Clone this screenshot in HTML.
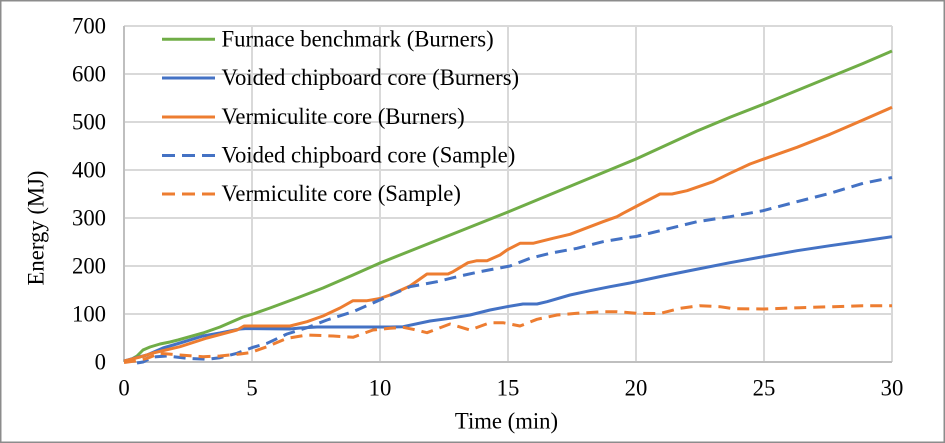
<!DOCTYPE html>
<html>
<head>
<meta charset="utf-8">
<style>
html,body{margin:0;padding:0;background:#fff;}
svg{display:block;}
text{font-family:"Liberation Serif","Times New Roman",serif;font-size:22.7px;fill:#000;}
</style>
</head>
<body>
<svg width="945" height="443" viewBox="0 0 945 443" xmlns="http://www.w3.org/2000/svg">
<rect x="0" y="0" width="945" height="443" fill="#fff"/>
<rect x="0.75" y="0.75" width="943.5" height="441.5" fill="none" stroke="#8c8c8c" stroke-width="1.5"/>
<!-- gridlines -->
<g stroke="#d9d9d9" stroke-width="2" fill="none">
<line x1="124" y1="26" x2="892" y2="26"/>
<line x1="124" y1="74" x2="892" y2="74"/>
<line x1="124" y1="122" x2="892" y2="122"/>
<line x1="124" y1="170" x2="892" y2="170"/>
<line x1="124" y1="218" x2="892" y2="218"/>
<line x1="124" y1="266" x2="892" y2="266"/>
<line x1="124" y1="314" x2="892" y2="314"/>
<line x1="252" y1="26" x2="252" y2="362"/>
<line x1="380" y1="26" x2="380" y2="362"/>
<line x1="508" y1="26" x2="508" y2="362"/>
<line x1="636" y1="26" x2="636" y2="362"/>
<line x1="764" y1="26" x2="764" y2="362"/>
<line x1="892" y1="26" x2="892" y2="362"/>
</g>
<g stroke="#bfbfbf" stroke-width="2" fill="none">
<line x1="124" y1="26" x2="124" y2="362"/>
<line x1="124" y1="362" x2="892" y2="362"/>
</g>
<!-- y tick labels -->
<g text-anchor="end">
<text x="106" y="33.5">700</text>
<text x="106" y="81.5">600</text>
<text x="106" y="129.5">500</text>
<text x="106" y="177.5">400</text>
<text x="106" y="225.5">300</text>
<text x="106" y="273.5">200</text>
<text x="106" y="321.5">100</text>
<text x="106" y="369.5">0</text>
</g>
<!-- x tick labels -->
<g text-anchor="middle">
<text x="124" y="395.5">0</text>
<text x="252" y="395.5">5</text>
<text x="380" y="395.5">10</text>
<text x="508" y="395.5">15</text>
<text x="636" y="395.5">20</text>
<text x="764" y="395.5">25</text>
<text x="892" y="395.5">30</text>
</g>
<text x="506.5" y="428.5" text-anchor="middle">Time (min)</text>
<text x="0" y="0" text-anchor="middle" transform="translate(43.5,228) rotate(-90)">Energy (MJ)</text>

<!-- series -->
<g fill="none" stroke-width="3" stroke-linejoin="round" stroke-linecap="butt">
<polyline stroke="#70AD47" points="124,362 130,360 137,356 143,350 150,347 160,344 170,342 178,340 203,333 220,327 243,317 253,314 270,308 297,298 323,288 353,275 380,263 400,255 508,212 636,159 697,131 730,117.3 764,104 797,90.5 830,77 863,63.5 892,51"/>
<polyline stroke="#4472C4" points="124,361 135,358 147,355 163,348 180,343 203,336 220,333 240,329 247,328.5 290,329 300,328 317,327 390,327 403,326.7 430,321 450,318.3 470,315 490,310 507,306.7 523,304 537,304 547,301.7 570,295 590,290.7 610,286.7 630,283 663,276 693,270 730,262.7 763,256.7 797,250.7 830,245.7 863,241 892,236.7"/>
<polyline stroke="#ED7D31" points="124,361 140,357 153,353 180,346.7 207,338 237,330 244,326 290,326 307,321.7 323,316 340,308 353,300.7 367,300.7 380,298.5 390,295 410,286 427,274 448,274 453,271.7 468,262.7 477,260.7 487,260.7 500,255 507,250 520,243.3 533,243.3 553,238.3 570,234.3 583,229.3 603,221.7 617,216.7 623,213.3 636,206.5 660,194 672,194 687,190.7 713,181.7 730,173.3 750,164 763,159.3 797,147.3 830,134.3 863,120 892,107.3"/>
<polyline stroke="#4472C4" stroke-dasharray="12 7" points="137,363 143,362 153,357 167,356 187,358.3 207,359.3 220,357.7 237,353.3 253,347.3 267,343.3 287,334 307,327.7 327,320 353,311.7 370,304.3 387,296.7 410,286.7 437,281.7 457,276.7 480,271.7 510,266 530,258.3 550,253.3 577,248.3 603,241.7 623,238.3 636,236.5 663,230 697,221.7 730,216.7 763,210.7 797,201.7 830,193.3 863,183.3 892,177.5"/>
<polyline stroke="#ED7D31" stroke-dasharray="12 7" points="124,362.5 135,361 147,358.3 160,353.3 180,355 203,356.7 220,356 240,354 250,352.7 267,346.7 287,338.3 307,335 333,336 353,337.3 373,330 390,328.3 403,327.3 413,329.3 427,332.7 450,324 470,330 490,322.7 503,322.7 520,326 537,319.3 557,315 577,313.3 603,311.7 617,311.7 637,313.3 660,313.5 667,311.7 680,308.3 700,305.7 720,306.7 733,308.7 763,309 800,307.7 833,306.7 863,305.7 892,305.7"/>
</g>

<!-- legend -->
<g fill="none" stroke-width="3">
<line x1="162" y1="39.3" x2="215" y2="39.3" stroke="#70AD47"/>
<line x1="162" y1="78" x2="215" y2="78" stroke="#4472C4"/>
<line x1="162" y1="117" x2="215" y2="117" stroke="#ED7D31"/>
<line x1="162" y1="155.5" x2="215" y2="155.5" stroke="#4472C4" stroke-dasharray="13 7"/>
<line x1="162" y1="194" x2="215" y2="194" stroke="#ED7D31" stroke-dasharray="13 7"/>
</g>
<text x="221.5" y="46.3">Furnace benchmark (Burners)</text>
<text x="221.5" y="85">Voided chipboard core (Burners)</text>
<text x="221.5" y="124">Vermiculite core (Burners)</text>
<text x="221.5" y="162.5">Voided chipboard core (Sample)</text>
<text x="221.5" y="201">Vermiculite core (Sample)</text>
</svg>
</body>
</html>
